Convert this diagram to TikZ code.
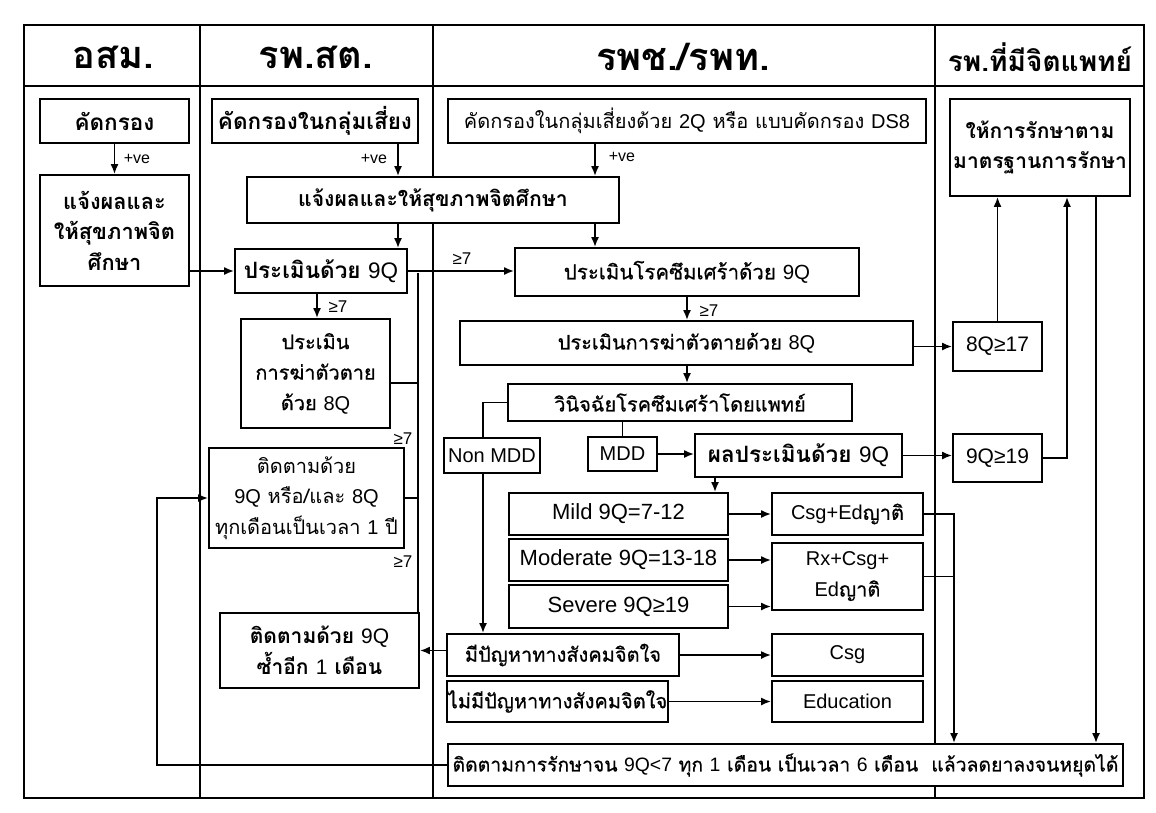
\documentclass[tikz,border=0pt]{standalone}
\usepackage{fontspec}
\setmainfont{Loma}[Script=Thai]
\newfontfamily\medfont{Loma}[Script=Thai,FakeBold=0.6]
\newfontfamily\latfont{Liberation Sans}
\newcommand\lat[1]{{\latfont\mdseries #1}}
\usetikzlibrary{arrows.meta,calc}

\newcommand\bodyfont{\medfont\fontsize{20}{30.5}\selectfont}
\newcommand\lightfont{\rmfamily\fontsize{20}{30.5}\selectfont}
\newcommand\smallfont{\latfont\fontsize{16}{18}\selectfont}
\newcommand\gefont{\latfont\fontsize{17}{19}\selectfont}

\tikzset{
  frame/.style={line width=2.2pt},
  box/.style={draw,fill=white,line width=1.8pt,inner sep=1pt,align=center,font=\bodyfont},
  light/.style={font=\lightfont},
  heavy/.style={font=\rmfamily\bfseries\fontsize{#1}{30.5}\selectfont},
  big/.style={font=\latfont\fontsize{22}{26}\selectfont},
  wire/.style={line width=1.8pt},
  ar/.style={wire,-{Latex[length=10pt,width=8pt]}},
  small/.style={font=\smallfont,inner sep=0pt},
  gel/.style={font=\gefont,inner sep=0pt},
  head/.style={font=\rmfamily\bfseries\fontsize{38}{42}\selectfont,inner sep=0pt},
}

% box from its two corners: \bx[style]{name}{x1}{y1}{x2}{y2}{text}
\newcommand\bx[7][]{\node[box,#1,minimum width={#5-#3},minimum height={#6-#4}] (#2) at ({(#3+#5)/2},{(#4+#6)/2}) {#7};}

\begin{document}
\begin{tikzpicture}[x=1pt,y=-1pt]
\useasboundingbox (0,0) rectangle (1156,812);
\fill[white] (0,0) rectangle (1156,812);

% swimlane frame
\draw[frame] (24,25) rectangle (1144,798);
\draw[frame] (24,86) -- (1144,86);
\draw[frame] (200,25) -- (200,798);
\draw[frame] (433,25) -- (433,798);
\draw[frame] (935,25) -- (935,798);

\node[head] (h1) at (113,57) {อสม.};
\node[head] (h2) at (316,57) {รพ.สต.};
\node[head] (h3) at (683,57) {รพช./รพท.};
\node[head,font=\rmfamily\bfseries\fontsize{28}{32}\selectfont] (h4) at (1040,57) {รพ.ที่มีจิตแพทย์};

% column 1
\bx[heavy=22.5]{A1}{40}{99}{189}{143}{คัดกรอง}
\bx[heavy=21.8]{A2}{40}{175}{189}{286}{แจ้งผลและ\\ให้สุขภาพจิต\\ศึกษา}

% column 2
\bx[heavy=22.5]{B1}{212}{99}{418}{143}{คัดกรองในกลุ่มเสี่ยง}
\bx[heavy=21.2]{B2}{247}{177}{619}{223}{แจ้งผลและให้สุขภาพจิตศึกษา}
\bx[heavy=22.5]{B3}{235}{249}{407}{293}{ประเมินด้วย \lat{9Q}}
\bx{B4}{241}{319}{390}{428}{ประเมิน\\การฆ่าตัวตาย\\ด้วย \lat{8Q}}
\bx[light]{B5}{209}{448}{404}{548}{ติดตามด้วย\\\lat{9Q} หรือ/และ \lat{8Q}\\ทุกเดือนเป็นเวลา \lat{1} ปี}
\bx[heavy=21]{B6}{220}{613}{419}{688}{ติดตามด้วย \lat{9Q}\\ซ้ำอีก \lat{1} เดือน}

% column 3
\bx[light]{C1}{448}{99}{926}{143}{คัดกรองในกลุ่มเสี่ยงด้วย \lat{2Q} หรือ แบบคัดกรอง \lat{DS8}}
\bx[font=\medfont\fontsize{20.5}{30.5}\selectfont]{C2}{515}{248}{859}{296}{ประเมินโรคซึมเศร้าด้วย \lat{9Q}}
\bx{C3}{460}{321}{913}{365}{ประเมินการฆ่าตัวตายด้วย \lat{8Q}}
\bx{C4}{508}{384}{852}{421}{วินิจฉัยโรคซึมเศร้าโดยแพทย์}
\bx{NM}{444}{438}{540}{473}{\lat{Non MDD}}
\bx{MD}{588}{437}{657}{471}{\lat{MDD}}
\bx[heavy=22.5]{C5}{695}{434}{902}{477}{ผลประเมินด้วย \lat{9Q}}
\bx[big]{MI}{509}{493}{728}{535}{Mild 9Q=7-12}
\bx[big]{MO}{509}{539}{728}{581}{Moderate 9Q=13-18}
\bx[big]{SE}{509}{585}{728}{628}{Severe 9Q≥19}
\bx{CE}{772}{493}{923}{535}{\lat{Csg+Ed}ญาติ}
\bx{RX}{772}{543}{923}{610}{\lat{Rx+Csg+}\\\lat{Ed}ญาติ}
\bx{P1}{447}{634}{679}{676}{มีปัญหาทางสังคมจิตใจ}
\bx{P2}{447}{681}{668}{722}{ไม่มีปัญหาทางสังคมจิตใจ}
\bx{CS}{772}{634}{923}{676}{\lat{Csg}}
\bx{ED}{772}{681}{923}{722}{\lat{Education}}
\bx[font=\medfont\fontsize{19.4}{24}\selectfont]{FN}{448}{744}{1123}{786}{ติดตามการรักษาจน \lat{9Q<7} ทุก \lat{1} เดือน เป็นเวลา \lat{6} เดือน\ \ แล้วลดยาลงจนหยุดได้}

% column 4
\bx[heavy=21]{D1}{950}{99}{1130}{196}{ให้การรักษาตาม\\มาตรฐานการรักษา}
\bx[font=\latfont\fontsize{21}{24}\selectfont]{D2}{953}{322}{1042}{371}{8Q≥17}
\bx[font=\latfont\fontsize{21}{24}\selectfont]{D3}{953}{434}{1042}{482}{9Q≥19}

% x positions of the vertical runs
\coordinate (xa) at (398,0);
\coordinate (xc) at (595,0);
\coordinate (xd) at (317,0);
\coordinate (xe) at (687,0);
\coordinate (xn) at (483,0);
\coordinate (xm) at (715,0);
\coordinate (xr) at (954,0);
\coordinate (xs) at (1067,0);
\coordinate (xt) at (1096,0);
\coordinate (xl) at (157,0);
\coordinate (vt) at (418,273);
\coordinate (v4) at (418,383);

% connectors, columns 1 and 2
\draw[ar] (A1.south) -- (A2.north);
\node[small] (p1) at (137,159) {+ve};
\draw[ar] (B3.west -| A2.east) -- (B3.west);
\draw[ar] (B1.south -| xa) -- (B2.north -| xa);
\node[small] (p2) at (374,159) {+ve};
\draw[ar] (B2.south -| xa) -- (B3.north -| xa);
\draw[ar] (C1.south -| xc) -- (B2.north -| xc);
\node[small] (p3) at (622,157) {+ve};
\draw[ar] (B2.south -| xc) -- (C2.north -| xc);
\draw[ar] (B3.east) -- (B3.east -| C2.west);
\node[gel] (g1) at (462,259) {≥7};
\draw[ar] (B3.south -| xd) -- (B4.north -| xd);
\node[gel] (g2) at (338,307) {≥7};
\draw[wire] (B4.east |- v4) -- (v4);
\draw[wire] (vt) -- (vt |- B6.north);
\draw[wire] (B5.east) -- (B5.east -| vt);
\node[gel] (g3) at (403,439) {≥7};
\node[gel] (g4) at (403,562) {≥7};
\draw[ar] (FN.west) -- (FN.west -| xl) |- (B5.west);
\draw[ar] (B6.east -| P1.west) -- (B6.east);

% connectors, column 3
\draw[ar] (C2.south -| xe) -- (C3.north -| xe);
\node[gel] (g5) at (709,311) {≥7};
\draw[ar] (C3.south -| xe) -- (C4.north -| xe);
\draw[ar] (D2.west -| C3.east) -- (D2.west);
\draw[wire] (C4.west) -| (NM.north -| xn);
\draw[ar] (NM.south -| xn) -- (P1.north -| xn);
\draw[wire] (C4.south -| MD.north) -- (MD.north);
\draw[ar] (MD.east) -- (MD.east -| C5.west);
\draw[ar] (C5.east) -- (C5.east -| D3.west);
\draw[ar] (C5.south -| xm) -- (MI.north -| xm);
\draw[ar] (MI.east) -- (MI.east -| CE.west);
\draw[ar] (MO.east) -- (MO.east -| RX.west);
\draw[ar] (SE.east) -- (SE.east -| RX.west);
\draw[ar] (P1.east) -- (P1.east -| CS.west);
\draw[ar] (P2.east) -- (P2.east -| ED.west);
\draw[ar] (CE.east) -| (FN.north -| xr);
\draw[wire] (RX.east) -- (RX.east -| xr);

% connectors, column 4
\draw[ar] (D2.north) -- (D2.north |- D1.south);
\draw[ar] (D3.east) -| (D1.south -| xs);
\draw[ar] (D1.south -| xt) -- (FN.north -| xt);
\end{tikzpicture}
\end{document}
